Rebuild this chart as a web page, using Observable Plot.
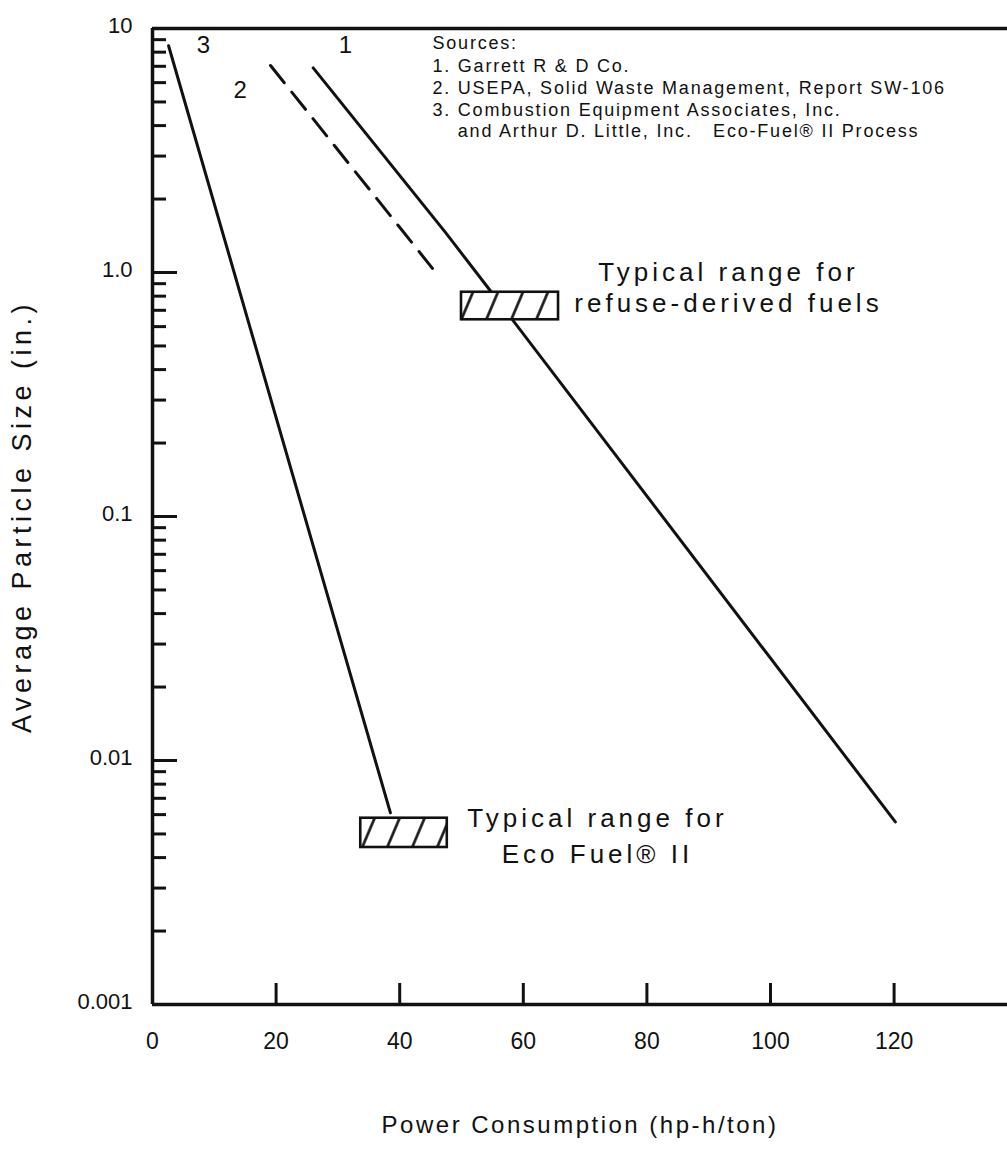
<!DOCTYPE html>
<html><head><meta charset="utf-8">
<script src="https://cdn.jsdelivr.net/npm/d3@7"></script>
<script src="https://cdn.jsdelivr.net/npm/@observablehq/plot@0.6"></script>
<style>html,body{margin:0;padding:0;background:#fff;} svg{display:block;}</style>
</head><body><div id="chart"></div>
<script>
// ---- axis ticks ----
const xTickValues = [0, 20, 40, 60, 80, 100, 120];
const xTickMarks = [20, 40, 60, 80, 100, 120];
const yTickValues = [0.001, 0.01, 0.1, 1, 10];
const yTickLabels = ["0.001", "0.01", "0.1", "1.0", "10"];
const yMajorMarks = [0.01, 0.1, 1];

// ---- curves (Power hp-h/ton, particle size in.) ----
const curve1X = [26.0, 47.4, 54.7, 120.2];
const curve1Y = [6.9, 1.46, 0.84, 0.0056];
const curve2X = [19.1, 45.3];
const curve2Y = [7.05, 1.04];
const curve3X = [2.6, 38.5];
const curve3Y = [8.5, 0.0061];

// ---- typical ranges (hatched boxes) ----
const rangeX1 = [50.0, 33.7];
const rangeX2 = [65.7, 47.7];
const rangeY1 = [0.64, 0.0044];
const rangeY2 = [0.83, 0.0058];

// ---- annotations ----
const curveLabelText = ["1", "2", "3"];
const curveLabelX = [31.2, 14.2, 8.25];
const curveLabelY = [8.5, 5.57, 8.5];

const noteText = ["Typical range for", "refuse-derived fuels", "Typical range for", "Eco Fuel® II"];
const noteX = [93.2, 93.2, 72.0, 72.0];
const noteY = [1.0, 0.746, 0.0058, 0.0041];

const sourceNumText = ["Sources:", "1.", "2.", "3."];
const sourceNumY = [8.68, 6.98, 5.68, 4.61];
const sourceBodyText = ["Garrett R & D Co.", "USEPA, Solid Waste Management, Report SW-106",
  "Combustion Equipment Associates, Inc.", "and Arthur D. Little, Inc.\u00a0\u00a0\u00a0Eco-Fuel\u00ae II Process"];
const sourceBodyY = [6.98, 5.68, 4.61, 3.78];
const sourceNumX = 45.3, sourceBodyX = 49.4;

const xTitle = "Power Consumption (hp-h/ton)";
const yTitle = "Average Particle Size (in.)";

// ---- build tables ----
const curves = [
  ...curve1X.map((x, i) => ({curve: "1", x, y: curve1Y[i]})),
  ...curve3X.map((x, i) => ({curve: "3", x, y: curve3Y[i]}))
];
const dashed = curve2X.map((x, i) => ({curve: "2", x, y: curve2Y[i]}));
const ranges = rangeX1.map((x1, i) => ({x1, x2: rangeX2[i], y1: rangeY1[i], y2: rangeY2[i]}));
const curveLabels = curveLabelText.map((t, i) => ({t, x: curveLabelX[i], y: curveLabelY[i]}));
const notes = noteText.map((t, i) => ({t, x: noteX[i], y: noteY[i]}));
const srcNums = sourceNumText.map((t, i) => ({t, y: sourceNumY[i]}));
const srcBodies = sourceBodyText.map((t, i) => ({t, y: sourceBodyY[i]}));
const yMinor = d3.scaleLog().domain([0.001, 10]).ticks().filter(v => !yTickValues.some(t => Math.abs(t - v) / t < 1e-9));

const FONT = "'Liberation Sans', Arial, Helvetica, sans-serif";

const chart = Plot.plot({
  width: 1007, height: 1164,
  marginLeft: 152, marginRight: 0, marginTop: 28, marginBottom: 160,
  x: {domain: [0, 138.35]},
  y: {type: "log", domain: [0.001, 10]},
  style: {fontFamily: FONT, color: "#111", background: "#fff", overflow: "visible"},
  marks: [
    // frame
    Plot.ruleY([10], {stroke: "#111", strokeWidth: 3.5}),
    Plot.ruleY([0.001], {stroke: "#111", strokeWidth: 3.5}),
    Plot.ruleX([0], {stroke: "#111", strokeWidth: 3.5}),
    // inward ticks
    Plot.ruleY(yMinor, {x1: 0, x2: 0, insetRight: -14, stroke: "#111", strokeWidth: 3}),
    Plot.ruleY(yMajorMarks, {x1: 0, x2: 0, insetRight: -25, stroke: "#111", strokeWidth: 3}),
    Plot.ruleX(xTickMarks, {y1: 0.001, y2: 0.001, insetTop: -21, stroke: "#111", strokeWidth: 3}),
    // tick labels
    Plot.axisX({ticks: xTickValues, tickSize: 0, tickPadding: 28, fontSize: 23, label: null}),
    Plot.axisY({ticks: yTickValues, tickFormat: d => yTickLabels[yTickValues.indexOf(d)],
      tickSize: 0, tickPadding: 20, fontSize: 22, dy: -3, label: null}),
    // curves
    Plot.line(curves, {x: "x", y: "y", z: "curve", stroke: "#111", strokeWidth: 3}),
    Plot.line(dashed, {x: "x", y: "y", stroke: "#111", strokeWidth: 3, strokeDasharray: "22,12"}),
    // boxes
    Plot.rect(ranges, {x1: "x1", x2: "x2", y1: "y1", y2: "y2", fill: "#fff"}),
    Plot.rect(ranges, {x1: "x1", x2: "x2", y1: "y1", y2: "y2", fill: "#fff", stroke: "#111", strokeWidth: 2.6, ariaDescription: "hatch"}),
    // labels
    Plot.text(curveLabels, {x: "x", y: "y", text: "t", fontSize: 24, fill: "#111"}),
    Plot.text(notes, {x: "x", y: "y", text: "t", fontSize: 26, fill: "#111", ariaDescription: "big-note"}),
    Plot.text(srcNums, {x: () => sourceNumX, y: "y", text: "t", textAnchor: "start", fontSize: 18, fill: "#111", ariaDescription: "src"}),
    Plot.text(srcBodies, {x: () => sourceBodyX, y: "y", text: "t", textAnchor: "start", fontSize: 18, fill: "#111", ariaDescription: "src"}),
    Plot.text([xTitle], {text: d => d, frameAnchor: "bottom", textAnchor: "middle", dy: 128, fontSize: 24, fill: "#111", ariaDescription: "x-title"}),
    Plot.text([yTitle], {text: d => d, frameAnchor: "left", textAnchor: "middle", rotate: -90, dx: -130, fontSize: 27, fill: "#111", ariaDescription: "y-title"})
  ]
});

document.getElementById("chart").appendChild(chart);
const svg = d3.select(chart.tagName.toLowerCase() === "svg" ? chart : chart.querySelector("svg"));
const defs = svg.insert("defs", ":first-child");
const pat = defs.append("pattern").attr("id", "hatch").attr("patternUnits", "userSpaceOnUse")
  .attr("width", 23).attr("height", 23).attr("patternTransform", "rotate(23)");
pat.append("line").attr("x1", 20.5).attr("y1", -2).attr("x2", 20.5).attr("y2", 25)
  .attr("stroke", "#111").attr("stroke-width", 2.6);
svg.selectAll('g[aria-description="hatch"]').attr("fill", "url(#hatch)")
  .selectAll("rect").attr("fill", "url(#hatch)");
svg.selectAll('g[aria-description="big-note"] text').style("letter-spacing", "4px");
svg.selectAll('g[aria-description="src"] text').style("letter-spacing", "1.8px");
svg.selectAll('g[aria-description="x-title"] text').style("letter-spacing", "2.5px");
svg.selectAll('g[aria-description="y-title"] text').style("letter-spacing", "4.5px");
</script>
</body></html>
